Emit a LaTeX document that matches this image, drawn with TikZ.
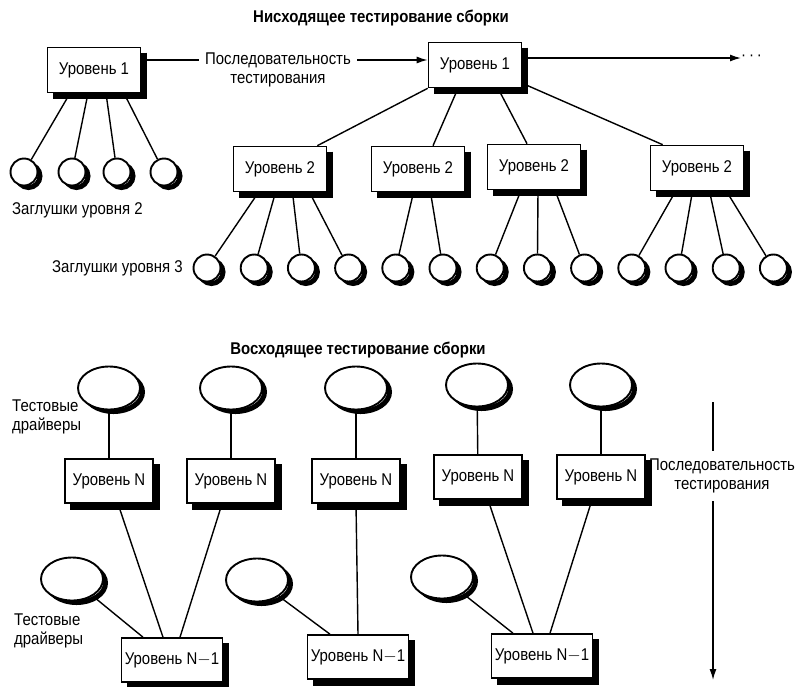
\documentclass[tikz,border=0pt]{standalone}
\usepackage{fontspec}
\setmainfont{Liberation Sans}[FakeStretch=0.88]
\usetikzlibrary{shapes.geometric,backgrounds,arrows.meta}
\tikzset{
  lvl/.style={draw,line width=1.6pt,fill=white,minimum width=93pt,minimum height=45pt},
  lvlN/.style={lvl,minimum width=88pt,minimum height=44pt},
  lvlM/.style={lvl,minimum width=100pt,minimum height=44pt},
  stub/.style={circle,draw,line width=1.9pt,fill=white,minimum size=27pt,inner sep=0pt},
  drv/.style={ellipse,draw,line width=1.9pt,fill=white,minimum width=62pt,minimum height=43pt,inner sep=0pt},
  cast/.style={draw=black,line width=6pt,line join=miter},
  castround/.style={draw=black,line width=5pt},
  lbl/.style={align=left,inner sep=0pt},
  ttl/.style={font=\fontsize{17}{19}\selectfont\bfseries},
  wire/.style={line width=1.4pt},
  tip/.style={-{Latex[length=11pt,width=7pt]}}
}
\begin{document}
\begin{tikzpicture}[x=1pt,y=-1pt,font=\fontsize{17}{19}\selectfont]
  \useasboundingbox (0,0) rectangle (799,686);

  \node[ttl] (down) at (381,18) {Нисходящее тестирование сборки};
  \node[lvl] (top1) at (94,70) {Уровень 1};
  \node[lvl] (top2) at (475,65) {Уровень 1};
  \node[lbl,align=center,anchor=north,inner xsep=6pt] (seq) at (278,53) {Последовательность\\тестирования};
  \node[inner sep=0pt,anchor=west] (more) at (741,58) {·\,·\,·};
  \draw[wire] (top1.east |- 0,60) -- (seq.west |- 0,60);
  \draw[wire,tip] (seq.east |- 0,60) -- (top2.west |- 0,60);
  \draw[wire,tip] (top2.east |- 0,58) -- (more.west);

  \foreach \i/\x in {1/24,2/72,3/117,4/164}
  \node[stub] (sa\i) at (\x,172) {};
  \node[lbl,anchor=west] (stubs2) at (12,210) {Заглушки уровня 2};

  \foreach \b/\x/\y in {1/280/169,2/418/169,3/534/167,4/697/168}
  \node[lvl] (mid\b) at (\x,\y) {Уровень 2};
  \foreach \i in {1,...,13}
  \node[stub] (sb\i) at ({207+(\i-1)*47.2},268) {};
  \node[lbl,anchor=west] (stubs3) at (52,268) {Заглушки уровня 3};

  \node[ttl] (up) at (358,350) {Восходящее тестирование сборки};
  \foreach \i/\x/\y in {1/109/388,2/231/388,3/356/388,4/477/385,5/601/385}
  \node[drv] (dt\i) at (\x,\y) {};
  \foreach \i/\x/\y in {1/109/481,2/231/481,3/356/481,4/478/477,5/601/477}
  \node[lvlN] (ln\i) at (\x,\y) {Уровень N};
  \foreach \i/\x/\y in {1/72/579,2/257/580,3/442/577}
  \node[drv] (dl\i) at (\x,\y) {};
  \foreach \i/\x/\y in {1/172/660,2/358/657,3/542/656}
  \node[lvlM] (nm\i) at (\x,\y) {Уровень N$-$1};
  \node[lbl,anchor=west] (drvtop) at (12,417) {Тестовые\\драйверы};
  \node[lbl,anchor=west] (drvlow) at (14,631) {Тестовые\\драйверы};

  \coordinate (vtop) at (713,402);
  \coordinate (vbot) at (713,680);
  \node[lbl,align=center,inner ysep=8pt] (seqv) at (722,476) {Последовательность\\тестирования};
  \draw[wire] (vtop) -- (vtop |- seqv.north);
  \draw[wire,tip] (vtop |- seqv.south) -- (vbot);

  \begin{scope}[on background layer]
    \foreach \i in {1,...,4}
    \draw[wire] ([xshift={(\i-2.5)*18+3}]top1.south) -- (sa\i);
    \draw[wire] (top2.south west) -- ([xshift=-10pt]mid1.north east);
    \draw[wire] ([xshift=-17pt]top2.south) -- ([xshift=15pt]mid2.north);
    \draw[wire] ([xshift=23pt]top2.south) -- ([xshift=-7pt]mid3.north);
    \draw[wire] ([yshift=5pt]top2.south east) -- ([xshift=13pt]mid4.north west);
    \foreach \b/\j/\d in {1/1/-1.5,1/2/-.5,1/3/.5,1/4/1.5,2/5/-.5,2/6/.5,3/7/-1,3/8/0,3/9/1,
                          4/10/-1.5,4/11/-.5,4/12/.5,4/13/1.5}
    \draw[wire] ([xshift={\d*17+4}]mid\b.south) -- (sb\j);

    \foreach \i in {1,...,5}
    \draw[wire] (dt\i) -- (ln\i);
    \draw[wire] ([xshift=9pt]ln1.south) -- ([xshift=-9pt]nm1.north);
    \draw[wire] ([xshift=-9pt]ln2.south) -- ([xshift=8pt]nm1.north);
    \draw[wire] (dl1) -- ([xshift=-29pt]nm1.north);
    \draw[wire] (ln3.south) -- (nm2.north);
    \draw[wire] (dl2) -- ([xshift=-28pt]nm2.north);
    \draw[wire] ([xshift=10pt]ln4.south) -- ([xshift=-9pt]nm3.north);
    \draw[wire] ([xshift=-9pt]ln5.south) -- ([xshift=8pt]nm3.north);
    \draw[wire] (dl3) -- ([xshift=-29pt]nm3.north);

    \foreach \s in {top1,top2,mid1,mid2,mid3,mid4,ln1,ln2,ln3,ln4,ln5,nm1,nm2,nm3}
    \draw[cast] ([shift={(3pt,-6pt)}]\s.north east) -- ([shift={(3pt,-3pt)}]\s.south east)
      -- ([shift={(6pt,-3pt)}]\s.south west);
    \foreach \s in {sa1,sa2,sa3,sa4,sb1,sb2,sb3,sb4,sb5,sb6,sb7,sb8,sb9,sb10,sb11,sb12,sb13}
    \draw[castround] ([shift={(4.5pt,-4pt)}]\s.center) circle[radius=11.5pt];
    \foreach \s in {dt1,dt2,dt3,dt4,dt5,dl1,dl2,dl3}
    \draw[castround] ([shift={(4.5pt,-4pt)}]\s.center) ellipse[x radius=29pt,y radius=19.5pt];
  \end{scope}
\end{tikzpicture}
\end{document}
